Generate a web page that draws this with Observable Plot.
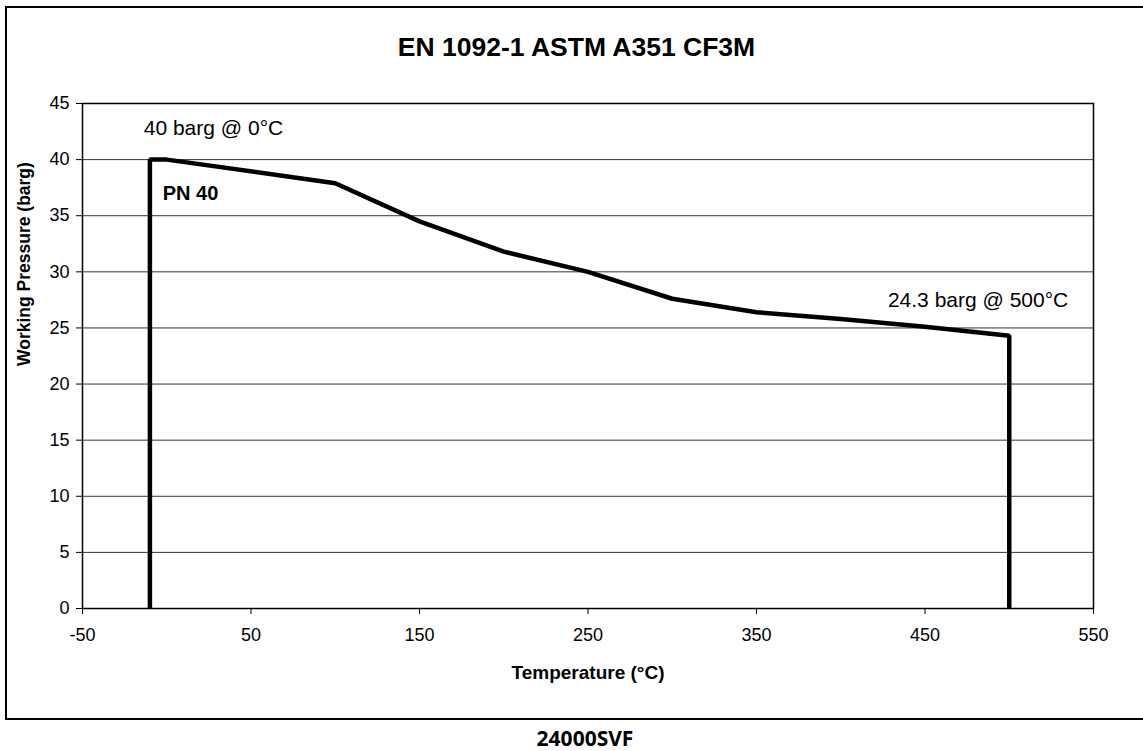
<!DOCTYPE html>
<html><head><meta charset="utf-8">
<script src="https://cdn.jsdelivr.net/npm/d3@7"></script>
<script src="https://cdn.jsdelivr.net/npm/@observablehq/plot@0.6"></script>
<style>
body{margin:0;background:#fff;font-family:"Liberation Sans",Arial,sans-serif;}
#wrap{position:relative;width:1143px;height:751px;}
#frame{position:absolute;left:5px;top:6px;width:1138px;height:714px;border:2px solid #000;border-right:none;box-sizing:border-box;}
#chart{position:absolute;left:0;top:0;}
#caption{position:absolute;left:0;width:1170px;top:728px;text-align:center;font-family:"Open Sans",sans-serif;font-weight:700;font-size:21px;line-height:21px;}
</style></head>
<body>
<div id="wrap"><div id="frame"></div><div id="chart"></div><div id="caption"></div></div>
<script>
const temps = [-10, -10, 0, 100, 150, 200, 250, 300, 350, 400, 450, 500, 500];
const pressures = [0, 40, 40, 37.9, 34.5, 31.8, 30.0, 27.6, 26.4, 25.8, 25.1, 24.3, 0];
const xTicks = [-50, 50, 150, 250, 350, 450, 550];
const yTicks = [0, 5, 10, 15, 20, 25, 30, 35, 40, 45];
const title = "EN 1092-1 ASTM A351 CF3M";
const xLabel = "Temperature (°C)";
const yLabel = "Working Pressure (barg)";
const pnLabel = "PN 40";
const captionText = "24000SVF";

const data = temps.map((t, i) => ({t, p: pressures[i]}));
const startPt = data[2];
const endPt = data[11];
const font = '"Liberation Sans", Arial, sans-serif';

const chart = Plot.plot({
  width: 1143, height: 720,
  marginLeft: 82, marginRight: 50, marginTop: 103, marginBottom: 112,
  x: {domain: [-50, 550]},
  y: {domain: [0, 45]},
  style: {fontFamily: font, fontSize: "18px", background: "transparent", color: "#000", overflow: "visible"},
  marks: [
    Plot.gridY(yTicks.filter(v => v > 0 && v < 45), {stroke: "#000", strokeOpacity: 0.8, strokeWidth: 1}),
    Plot.frame({stroke: "#000", strokeWidth: 1.5}),
    Plot.axisX(xTicks, {tickSize: 6, tickPadding: 14, label: null, fontSize: 18, tickFormat: d => String(d)}),
    Plot.axisY(yTicks, {tickSize: 6, tickPadding: 7, label: null, fontSize: 18, tickFormat: d => String(d)}),
    Plot.line(data, {x: "t", y: "p", stroke: "#000", strokeWidth: 4.5, strokeLinejoin: "miter", strokeLinecap: "butt"}),
    Plot.text([startPt], {x: "t", y: "p", text: d => `${d.p} barg @ ${d.t}°C`, textAnchor: "start", lineAnchor: "bottom", dx: -23, dy: -25, fontSize: 21}),
    Plot.text([startPt], {x: "t", y: "p", text: () => pnLabel, textAnchor: "start", lineAnchor: "bottom", dx: -4, dy: 40, fontSize: 20, fontWeight: "bold"}),
    Plot.text([endPt], {x: "t", y: "p", text: d => `${d.p} barg @ ${d.t}°C`, textAnchor: "end", lineAnchor: "bottom", dx: 59, dy: -29, fontSize: 21}),
    Plot.text([title], {frameAnchor: "top", text: d => d, lineAnchor: "bottom", dx: -11.5, dy: -48, fontSize: 26.5, fontWeight: "bold"}),
    Plot.text([xLabel], {frameAnchor: "bottom", text: d => d, lineAnchor: "bottom", dy: 70, fontSize: 19, fontWeight: "bold"}),
    Plot.text([yLabel], {frameAnchor: "left", text: d => d, rotate: -90, lineAnchor: "middle", dx: -58, dy: 10, fontSize: 17.5, fontWeight: "bold"})
  ]
});
document.getElementById("chart").appendChild(chart);
document.getElementById("caption").textContent = captionText;
</script>
</body></html>
